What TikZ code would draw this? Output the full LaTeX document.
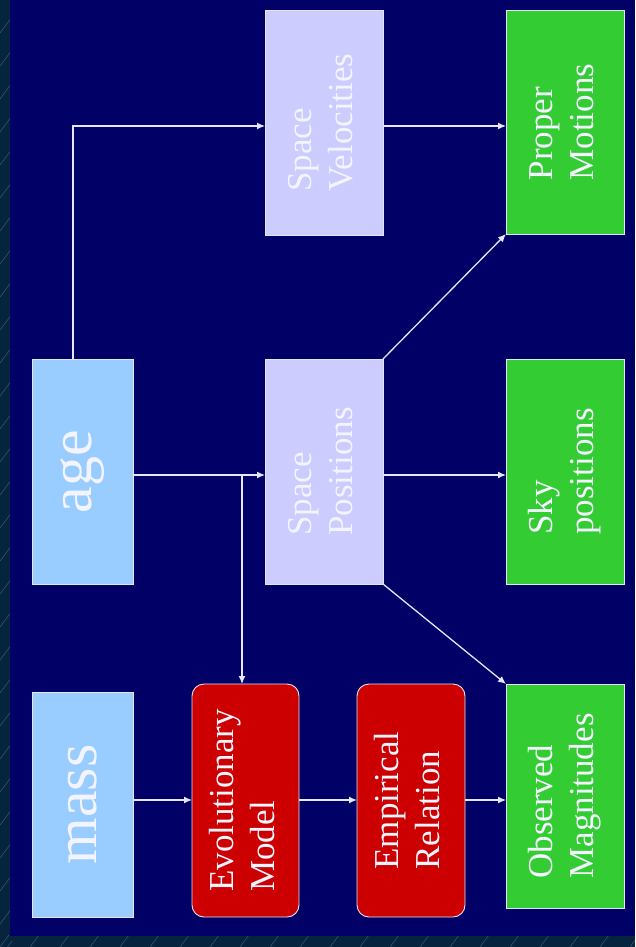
\documentclass[tikz,border=0pt]{standalone}
\usepackage{fontspec}
\setmainfont{Liberation Serif}
\usetikzlibrary{arrows.meta}
\definecolor{navybg}{HTML}{000066}
\definecolor{stripbg}{HTML}{06243E}
\definecolor{stripln}{HTML}{3A5C7A}
\definecolor{lightblue}{HTML}{99CCFF}
\definecolor{lavender}{HTML}{CCCCFF}
\definecolor{boxgreen}{HTML}{33CC33}
\definecolor{boxred}{HTML}{CC0000}
\definecolor{edgecol}{HTML}{E4E4F4}
\definecolor{txtcol}{HTML}{F4F4FF}
\definecolor{arrcol}{HTML}{E6E6FF}
\newcommand{\rtxt}[1]{\rotatebox{90}{\fontsize{35}{41}\selectfont\begin{tabular}{@{}l@{}}#1\end{tabular}}}
\newcommand{\bigtxt}[1]{\rotatebox{90}{\fontsize{60}{66}\selectfont #1}}
\begin{document}
\begin{tikzpicture}[x=1pt,y=-1pt,
  box/.style={draw=edgecol,line width=0.9pt,inner sep=0pt,outer sep=0pt,text=txtcol},
  bluebox/.style={box,fill=lightblue},
  lavbox/.style={box,fill=lavender},
  greenbox/.style={box,fill=boxgreen},
  redbox/.style={box,fill=boxred,rounded corners=12pt},
  conn/.style={draw=arrcol,line width=1.3pt},
  arr/.style={conn,-{Latex[length=8pt,width=7pt]}}]
\useasboundingbox (0,0) rectangle (635,947);
\fill[navybg] (0,0) rectangle (635,947);
% patterned strips
\fill[stripbg] (0,0) rectangle (10,947);
\fill[stripbg] (0,936) rectangle (635,947);
\begin{scope}
\clip (0,0) rectangle (10,947) (0,936) rectangle (635,947);
\foreach \k in {-2,...,60} {
  \draw[stripln,line width=0.5pt] (0,{\k*33}) -- (12,{\k*33-16});
}
\foreach \k in {0,...,22} {
  \draw[stripln,line width=0.5pt] ({\k*30},947) -- ({\k*30+9},935);
}
\end{scope}
% nodes
\node[bluebox,minimum width=101pt,minimum height=225pt] (mass) at (82.5,804.5) {\bigtxt{mass}};
\node[bluebox,minimum width=101pt,minimum height=225pt] (age) at (82.5,471.5) {\bigtxt{age}};
\node[redbox,minimum width=107pt,minimum height=233pt] (evo) at (245.5,800.5) {\rtxt{Evolutionary\\Model}};
\node[redbox,minimum width=108pt,minimum height=233pt] (emp) at (411,800.5) {\rtxt{Empirical\\Relation}};
\node[greenbox,minimum width=118pt,minimum height=224pt] (om) at (565,796) {\rtxt{Observed\\Magnitudes}};
\node[lavbox,minimum width=118pt,minimum height=225pt] (sv) at (324,122.5) {\rtxt{Space\\Velocities}};
\node[lavbox,minimum width=118pt,minimum height=225pt] (sp) at (324,471.5) {\rtxt{Space\\Positions}};
\node[greenbox,minimum width=118pt,minimum height=224pt] (pm) at (565,122) {\rtxt{Proper\\Motions}};
\node[greenbox,minimum width=118pt,minimum height=225pt] (sky) at (565,471.5) {\rtxt{Sky\\positions}};
% helper coordinates
\coordinate (rowtop) at (73,126);
\coordinate (rowmid) at (242,475);
\coordinate (rowbot) at (0,800);
% connectors
\draw[arr] (age.north -| rowtop) -- (rowtop) -- (sv.west |- rowtop);
\draw[arr] (sv.east |- rowtop) -- (pm.west |- rowtop);
\draw[arr] (age.east |- rowmid) -- (sp.west |- rowmid);
\draw[arr] (rowmid) -- (rowmid |- evo.north);
\draw[arr] (sp.east |- rowmid) -- (sky.west |- rowmid);
\draw[arr] (sp.north east) -- (pm.south west);
\draw[arr] (sp.south east) -- (om.north west);
\draw[arr] (mass.east |- rowbot) -- (evo.west |- rowbot);
\draw[arr] (evo.east |- rowbot) -- (emp.west |- rowbot);
\draw[arr] (emp.east |- rowbot) -- (om.west |- rowbot);
\end{tikzpicture}
\end{document}
